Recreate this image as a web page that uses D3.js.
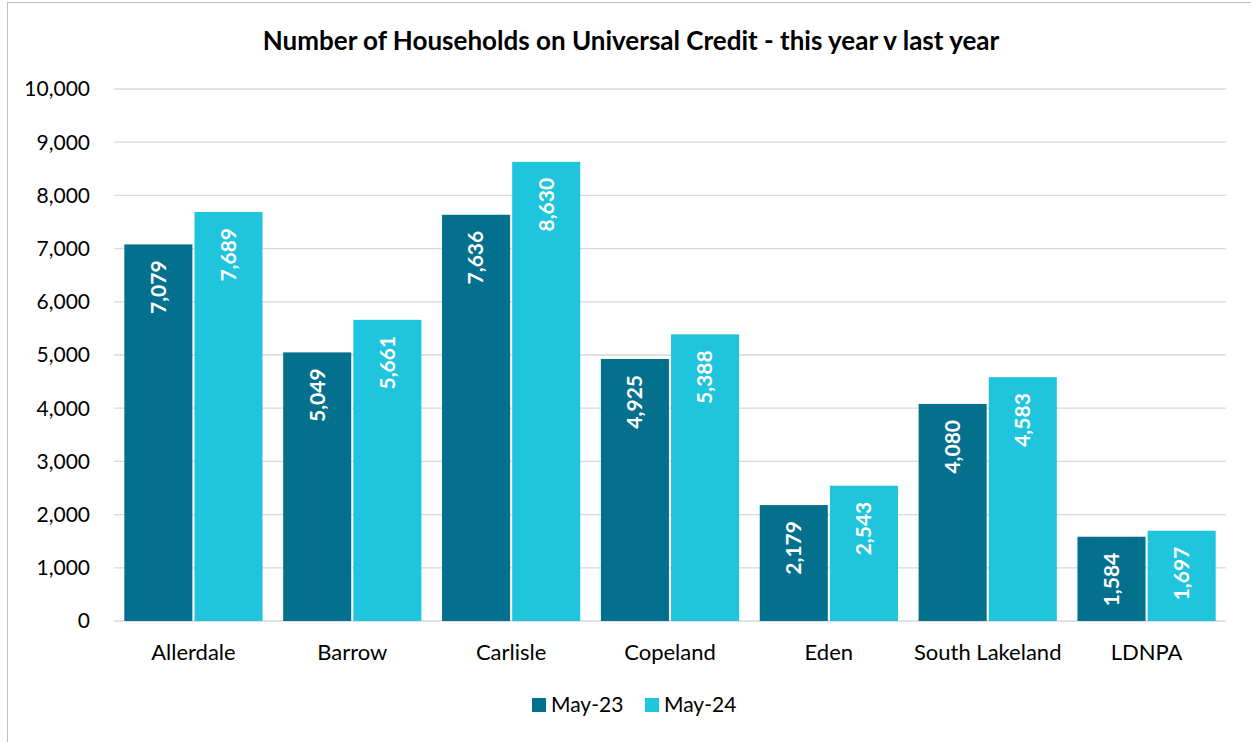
<!DOCTYPE html>
<html>
<meta charset="utf-8" />
<style>
	html, body, svg { margin: 0; padding: 0; }
	body { background: #fff; }
	text { font-family: Lato, "Open Sans", sans-serif; fill: #000; }
	.grid line { stroke: #d9d9d9; stroke-width: 1.3px; }
</style>
<svg width="1251" height="742"></svg>
<script src="https://d3js.org/d3.v7.min.js"></script>
<script>
	// data
	var areas = ["Allerdale", "Barrow", "Carlisle", "Copeland", "Eden", "South Lakeland", "LDNPA"];
	var may23 = [7079, 5049, 7636, 4925, 2179, 4080, 1584];
	var may24 = [7689, 5661, 8630, 5388, 2543, 4583, 1697];
	var seriesNames = ["May-23", "May-24"];
	var yTicks = [0, 1000, 2000, 3000, 4000, 5000, 6000, 7000, 8000, 9000, 10000];

	var colors = ["#03708e", "#1fc4dd"];
	var svg = d3.select("svg");

	// outer chart border
	svg.append("rect").attr("x", 7.5).attr("y", 2.5).attr("width", 1260).attr("height", 760)
		.attr("fill", "none").attr("stroke", "#bfbfbf").attr("stroke-width", 1);

	var plotL = 114, plotR = 1226, plotT = 89, plotB = 621;

	var x = d3.scaleBand().domain(areas).range([plotL, plotR]).paddingInner(0.13).paddingOuter(0.065);
	var x1 = d3.scaleBand().domain(seriesNames).range([0, x.bandwidth()]).paddingInner(0.03);
	var y = d3.scaleLinear().domain([0, 10000]).range([plotB, plotT]);

	// grid lines
	svg.append("g").attr("class", "grid")
		.selectAll("line").data(yTicks).enter().append("line")
		.attr("x1", plotL).attr("x2", plotR)
		.attr("y1", function (d) { return y(d); })
		.attr("y2", function (d) { return y(d); });

	// y axis labels
	var fmt = d3.format(",");
	svg.append("g").selectAll("text").data(yTicks).enter().append("text")
		.attr("x", 90).attr("y", function (d) { return y(d); })
		.attr("dy", "0.35em").attr("text-anchor", "end")
		.style("font-size", "21px")
		.text(fmt);

	var rows = areas.map(function (a, i) {
		return { area: a, vals: [may23[i], may24[i]] };
	});

	var groups = svg.append("g").selectAll("g").data(rows).enter().append("g")
		.attr("transform", function (d) { return "translate(" + x(d.area) + ",0)"; });

	var bars = groups.selectAll("g").data(function (d) {
		return d.vals.map(function (v, j) { return { s: seriesNames[j], v: v, j: j }; });
	}).enter().append("g");

	bars.append("rect")
		.attr("x", function (d) { return x1(d.s); })
		.attr("y", function (d) { return y(d.v); })
		.attr("width", x1.bandwidth())
		.attr("height", function (d) { return y(0) - y(d.v); })
		.attr("fill", function (d) { return colors[d.j]; });

	bars.append("text")
		.attr("transform", function (d) {
			return "translate(" + (x1(d.s) + x1.bandwidth() / 2) + "," + (y(d.v) + 16) + ") rotate(-90)";
		})
		.attr("text-anchor", "end").attr("dy", "0.35em")
		.style("font-size", "21px").style("font-weight", "bold").style("fill", "#fff")
		.text(function (d) { return fmt(d.v); });

	// x labels
	svg.append("g").selectAll("text").data(areas).enter().append("text")
		.attr("x", function (d) { return x(d) + x.bandwidth() / 2; })
		.attr("y", 660).attr("text-anchor", "middle")
		.style("font-size", "22px")
		.text(function (d) { return d; });

	// title
	svg.append("text").attr("x", 631).attr("y", 50).attr("text-anchor", "middle")
		.style("font-size", "26px").style("font-weight", "bold")
		.text("Number of Households on Universal Credit - this year v last year");

	// legend
	var legendX = [532, 645];
	var legend = svg.append("g").selectAll("g").data(seriesNames).enter().append("g")
		.attr("transform", function (d, i) { return "translate(" + legendX[i] + ",698)"; });
	legend.append("rect").attr("width", 14).attr("height", 14)
		.attr("fill", function (d, i) { return colors[i]; });
	legend.append("text").attr("x", 19).attr("y", 7).attr("dy", "0.35em")
		.style("font-size", "21px").text(function (d) { return d; });
</script>
</html>
